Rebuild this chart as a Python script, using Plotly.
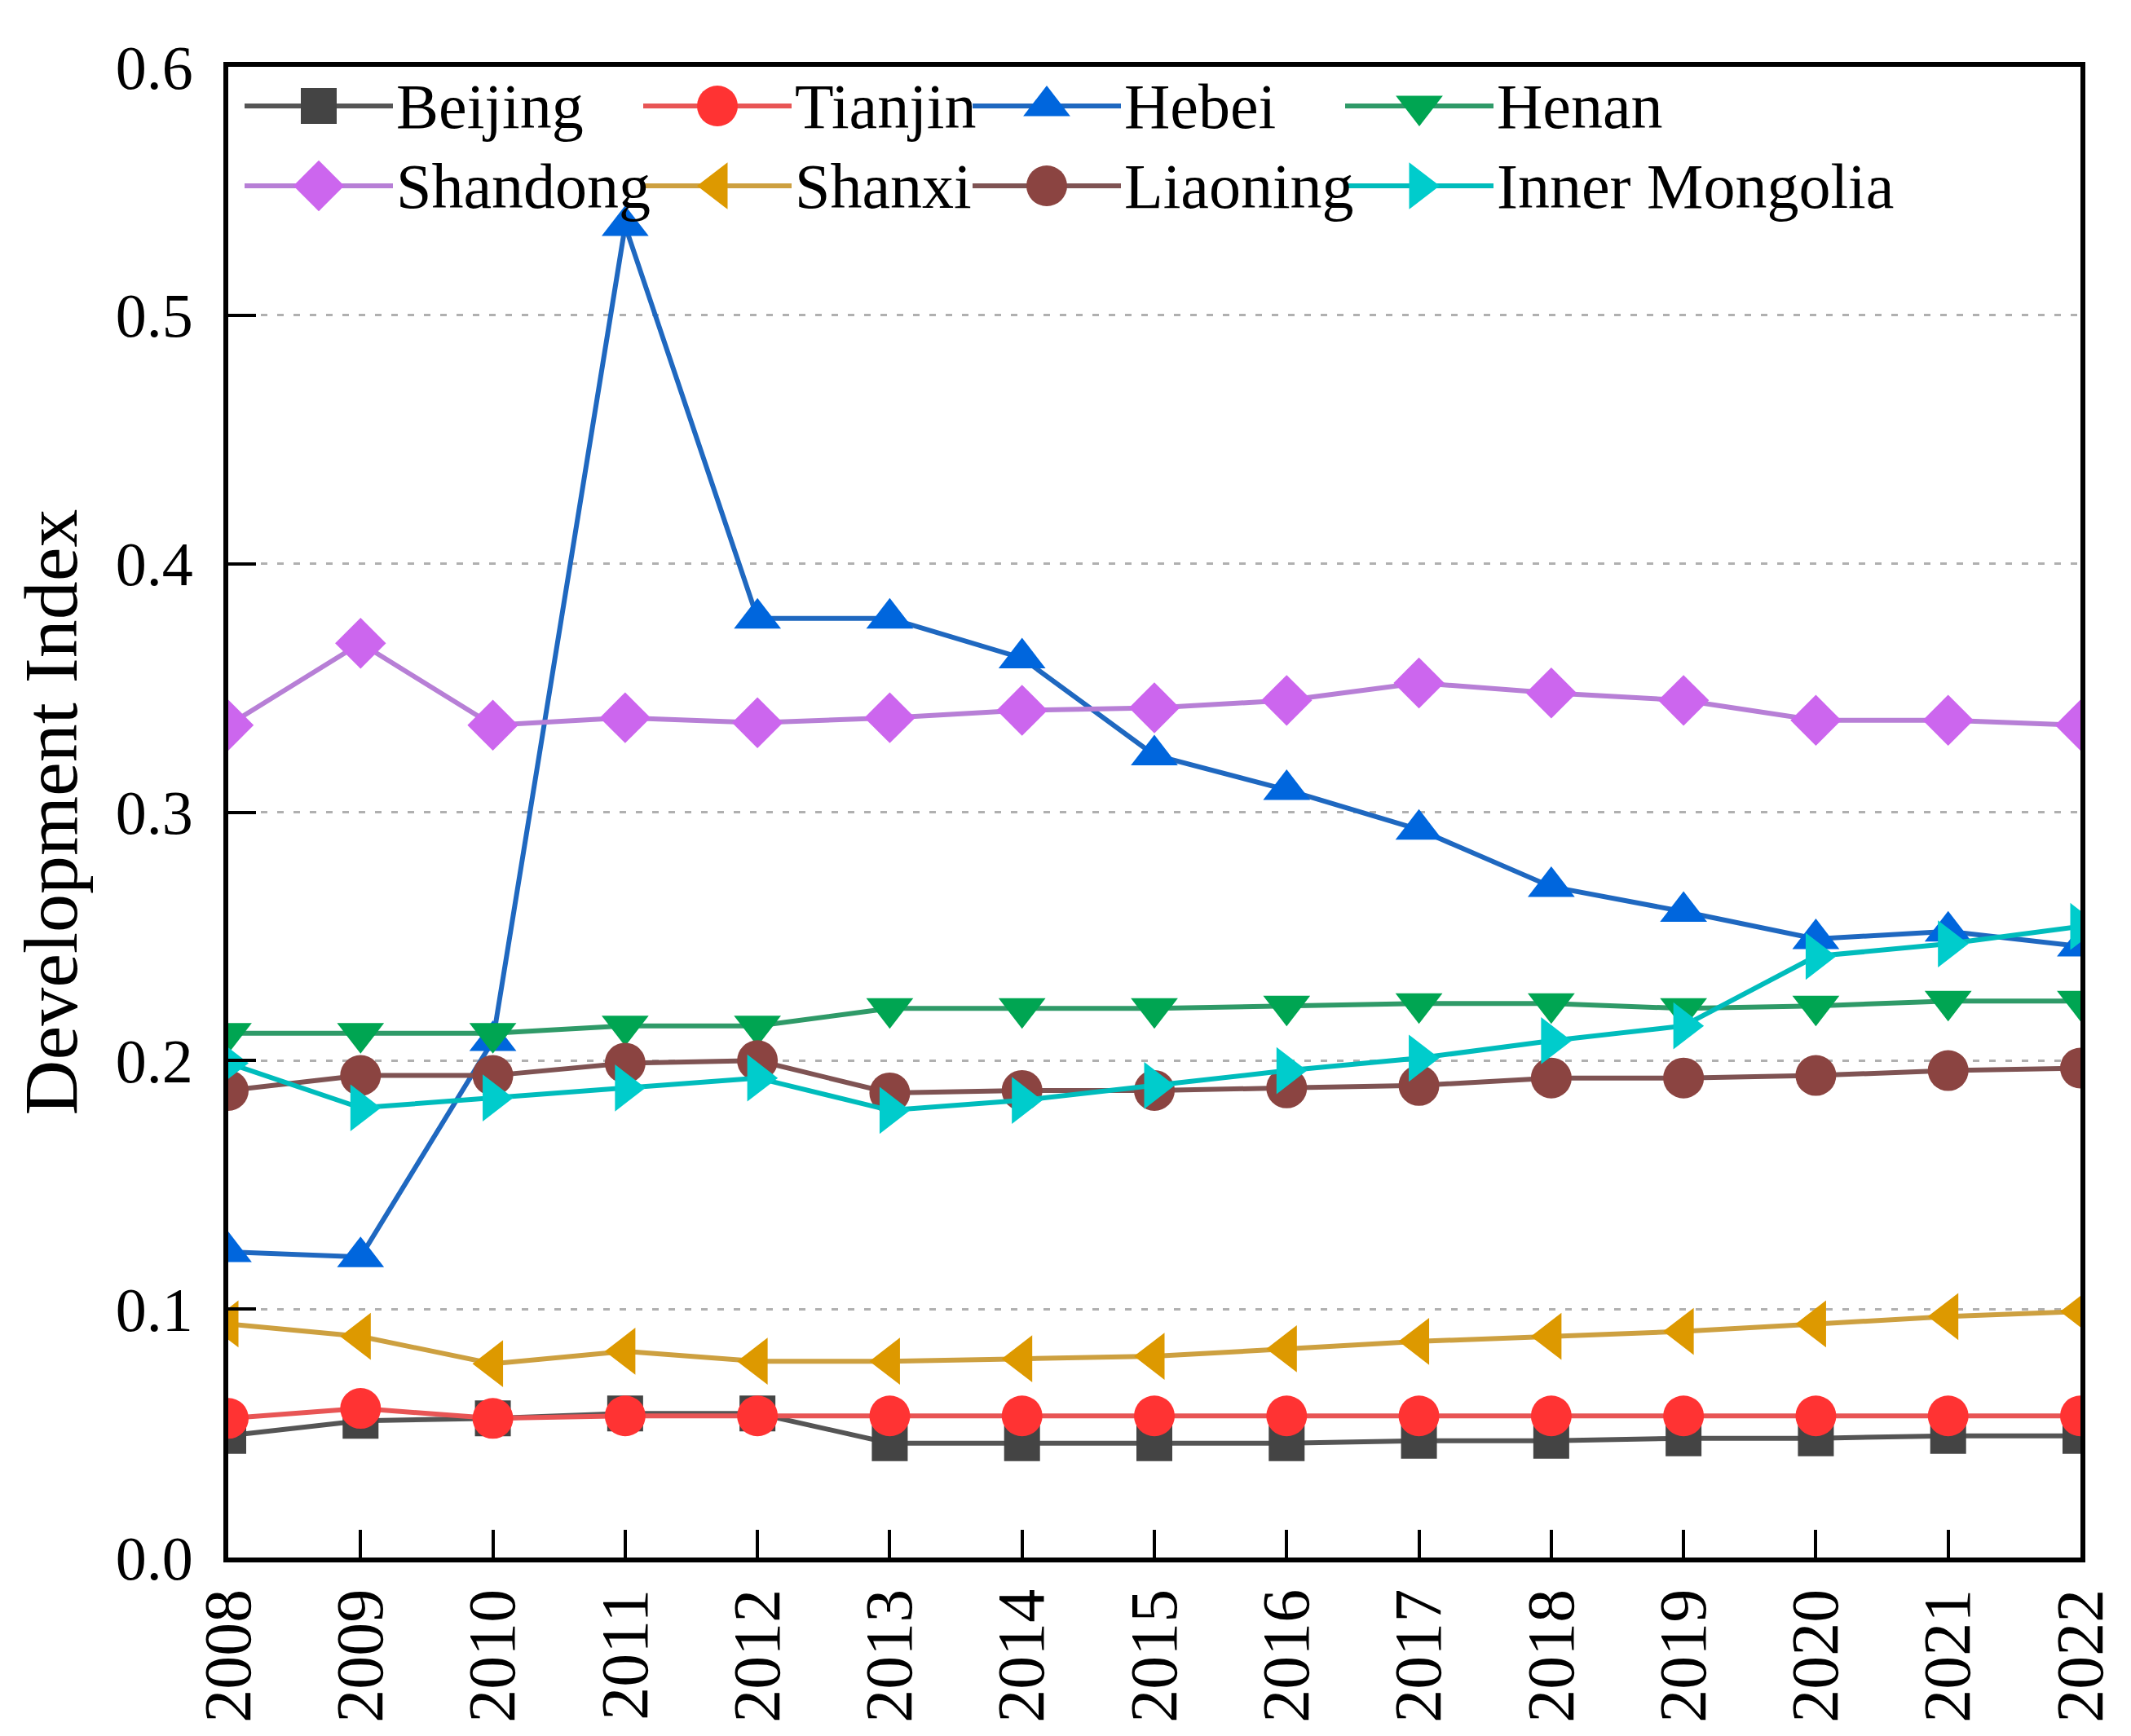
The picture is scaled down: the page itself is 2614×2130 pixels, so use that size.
import plotly.graph_objects as go

# Data
years = list(range(2008, 2023))

beijing = [0.049, 0.055, 0.056, 0.058, 0.058, 0.046, 0.046, 0.046, 0.046, 0.047, 0.047, 0.048, 0.048, 0.049, 0.049]
tianjin = [0.056, 0.060, 0.056, 0.057, 0.057, 0.057, 0.057, 0.057, 0.057, 0.057, 0.057, 0.057, 0.057, 0.057, 0.057]
hebei = [0.123, 0.121, 0.208, 0.536, 0.378, 0.378, 0.362, 0.323, 0.309, 0.293, 0.270, 0.260, 0.249, 0.252, 0.246]
henan = [0.211, 0.211, 0.211, 0.214, 0.214, 0.221, 0.221, 0.221, 0.222, 0.223, 0.223, 0.221, 0.222, 0.224, 0.224]
shandong = [0.335, 0.368, 0.335, 0.338, 0.336, 0.338, 0.341, 0.342, 0.345, 0.352, 0.348, 0.345, 0.337, 0.337, 0.335]
shanxi = [0.094, 0.089, 0.078, 0.083, 0.079, 0.079, 0.080, 0.081, 0.084, 0.087, 0.089, 0.091, 0.094, 0.097, 0.099]
liaoning = [0.188, 0.194, 0.194, 0.199, 0.200, 0.187, 0.188, 0.188, 0.189, 0.190, 0.193, 0.193, 0.194, 0.196, 0.197]
inner_mongolia = [0.199, 0.181, 0.185, 0.189, 0.193, 0.180, 0.184, 0.190, 0.196, 0.201, 0.208, 0.214, 0.242, 0.247, 0.254]

names = ["Beijing", "Tianjin", "Hebei", "Henan", "Shandong", "Shanxi", "Liaoning", "Inner Mongolia"]
values = [beijing, tianjin, hebei, henan, shandong, shanxi, liaoning, inner_mongolia]

# style per series: (symbol, marker size, marker colour, line colour)
styles = [
    ("square", 44, "#444444", "#555555"),
    ("circle", 50, "#ff3333", "#e85555"),
    ("triangle-up", 50, "#0066dd", "#1f68c0"),
    ("triangle-down", 50, "#00a552", "#2f9a68"),
    ("diamond", 48, "#cc66ee", "#b77fd6"),
    ("triangle-left", 50, "#dd9900", "#cda040"),
    ("circle", 50, "#8b4441", "#7f5353"),
    ("triangle-right", 50, "#00cccc", "#00bcbc"),
]

FONT = "Liberation Serif"

fig = go.Figure()

for name, vals, (sym, size, mcol, lcol) in zip(names, values, styles):
    fig.add_trace(go.Scatter(
        x=years, y=vals, name=name,
        mode="lines+markers",
        line=dict(color=lcol, width=6),
        marker=dict(symbol=sym, size=size, color=mcol, opacity=1, line=dict(width=0)),
        showlegend=False,
    ))

# hand-made legend (two rows, four columns), positions in image pixels
legend_cols = [298, 787, 1191, 1648]
legend_rows = [125, 223]
seg_len = 182
for i, (name, (sym, size, mcol, lcol)) in enumerate(zip(names, styles)):
    x0 = legend_cols[i % 4]
    y0 = legend_rows[i // 4]
    fig.add_trace(go.Scatter(
        x=[x0, x0 + seg_len / 2, x0 + seg_len], y=[y0, y0, y0],
        xaxis="x2", yaxis="y2", mode="lines+markers",
        line=dict(color=lcol, width=6),
        marker=dict(symbol=sym, size=[0, size, 0], color=mcol, opacity=1, line=dict(width=0)),
        showlegend=False, hoverinfo="skip",
    ))
    fig.add_annotation(
        x=x0 + seg_len + 2, y=y0, xref="x2", yref="y2",
        text=name, showarrow=False, xanchor="left", yanchor="middle",
        font=dict(family=FONT, size=78, color="black"),
    )

fig.update_layout(
    width=2614, height=2130,
    margin=dict(l=272, r=70, t=74, b=227),
    paper_bgcolor="white", plot_bgcolor="white",
    font=dict(family=FONT, color="black"),
    showlegend=False,
    xaxis=dict(
        range=[2008, 2022], tickvals=years, ticktext=[str(y) for y in years],
        tickangle=-90, tickfont=dict(family=FONT, size=82, color="black"),
        ticks="inside", ticklen=34, tickwidth=4, tickcolor="black",
        showline=True, linewidth=6, linecolor="black", mirror=True,
        showgrid=False, zeroline=False, ticklabelstandoff=0,
    ),
    yaxis=dict(
        range=[0, 0.6], dtick=0.1, tickformat=".1f",
        tickfont=dict(family=FONT, size=76, color="black"),
        ticks="inside", ticklen=34, tickwidth=4, tickcolor="black",
        showline=True, linewidth=6, linecolor="black", mirror=True,
        showgrid=True, gridcolor="#b0b0b0", gridwidth=3, griddash="8px,12px",
        zeroline=False, ticklabelstandoff=22,
        title=dict(text="Development Index", font=dict(family=FONT, size=94, color="black"), standoff=18),
    ),
    xaxis2=dict(range=[278, 2550], overlaying="x", anchor="y2", visible=False, fixedrange=True),
    yaxis2=dict(range=[1906, 77], overlaying="y", anchor="x2", visible=False, fixedrange=True),
)

fig.write_html("out.html")
